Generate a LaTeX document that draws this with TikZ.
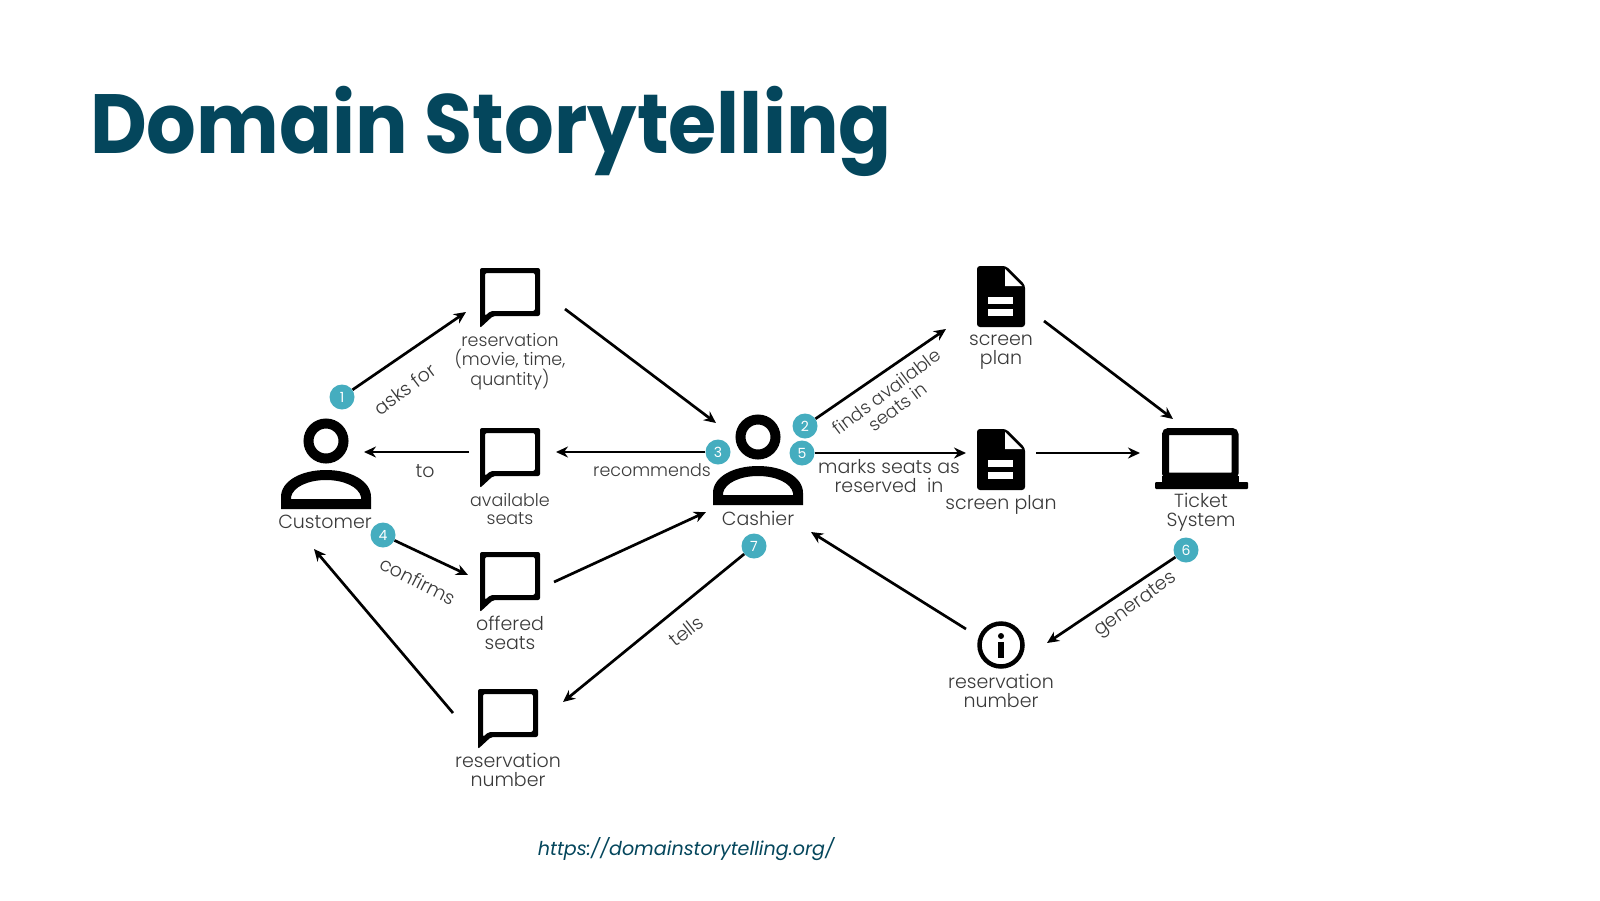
\documentclass[tikz,border=0pt]{standalone}
\usepackage{fontspec}
\setmainfont{Poppins}
\newfontfamily\titlefont{Poppins}[UprightFont=* Bold]
\newfontfamily\labelfont{Poppins Light}
\usetikzlibrary{arrows.meta}
\definecolor{titleblue}{HTML}{04465C}
\definecolor{badgeteal}{HTML}{45ADBF}
\definecolor{labelgrey}{HTML}{3A3A3A}
\tikzset{
  conn/.style={line width=2.7pt,-{Stealth[length=12pt,width=11pt]},black},
  lbl/.style={inner sep=0pt,align=center,text=labelgrey,font=\labelfont\fontsize{19}{18.7}\selectfont},
  lblsmall/.style={lbl,font=\labelfont\fontsize{17.5}{18.7}\selectfont},
  badge/.style={circle,fill=badgeteal,minimum size=25pt,inner sep=0pt,text=white,font=\fontsize{14}{14}\selectfont},
  pics/talk/.style={code={
    \fill[black,even odd rule,rounded corners=2pt]
      (0,0) -- (60,0) -- (60,48) -- (13,48) -- (0,60) -- cycle
      (5,5) -- (55,5) -- (55,43) -- (10.5,43) -- (5,48) -- cycle;
  }},
  pics/person/.style={code={
    \draw[line width=10pt] (0,0) circle (17.5pt);
    \fill[black,even odd rule]
      (-45,68) -- (-45,56) .. controls (-45,40) and (-25,29) .. (0,29)
      .. controls (25,29) and (45,40) .. (45,56) -- (45,68) -- cycle
      (-35,58) -- (-35,56) .. controls (-33,46) and (-18,39) .. (0,39)
      .. controls (18,39) and (33,46) .. (35,56) -- (35,58) -- cycle;
  }},
  pics/sheet/.style={code={
    \fill[black,rounded corners=3pt] (0,0) -- (29,0) -- (48,19) -- (48,61) -- (0,61) -- cycle;
    \fill[white] (28,3) -- (45,20) -- (28,20) -- cycle;
    \fill[white] (11,31) rectangle (36,38);
    \fill[white] (11,43) rectangle (36,50);
  }},
  pics/laptop/.style={code={
    \draw[line width=7pt,rounded corners=3pt] (3.5,3.5) rectangle (73,48);
    \fill[black] (0,48) rectangle (76.5,54);
    \fill[black,rounded corners=1pt] (-7,54) rectangle (86,61);
  }},
  pics/infosign/.style={code={
    \draw[line width=4.5pt] (0,0) circle (21.5pt);
    \fill[black] (0,-9) circle (3pt);
    \fill[black] (-2.6,-3) rectangle (2.6,13);
  }}
}
\begin{document}
\begin{tikzpicture}[x=1pt,y=-1pt]
\useasboundingbox (0,0) rectangle (1600,900);
\fill[white] (0,0) rectangle (1600,900);

% heading and source link
\node[anchor=base west,inner sep=0pt,xscale=.93,text=titleblue,font=\titlefont\fontsize{84}{84}\selectfont] (title) at (90,153) {Domain Storytelling};
\node[anchor=base,inner sep=0pt,text=titleblue,font=\fontsize{19.1}{20}\selectfont\itshape] (link) at (686,855) {https://domainstorytelling.org/};

% actors and work objects
\pic at (326,441) {person};
\pic at (758,437) {person};
\pic at (480,268) {talk};
\pic at (480,428) {talk};
\pic at (480,552) {talk};
\pic at (478,689) {talk};
\pic at (977,266) {sheet};
\pic at (977,429) {sheet};
\pic at (1162,428) {laptop};
\pic at (1001,645) {infosign};

% anchor points around the icons
\coordinate (resvIn)   at (466,312);
\coordinate (resvOut)  at (565,309);
\coordinate (cashTop)  at (716,423);
\coordinate (availOut) at (469,452);
\coordinate (custE)    at (364,452);
\coordinate (availIn)  at (556,452);
\coordinate (planAIn)  at (946,329);
\coordinate (planBIn)  at (966,453);
\coordinate (planAOut) at (1044,321);
\coordinate (sysTop)   at (1173,419);
\coordinate (planBOut) at (1036,453);
\coordinate (sysW)     at (1140,453);
\coordinate (offerIn)  at (468,575);
\coordinate (offerOut) at (554,582);
\coordinate (cashSW)   at (706,512);
\coordinate (numOut)   at (453,713);
\coordinate (custS)    at (314,549);
\coordinate (numIn)    at (563,702);
\coordinate (infoOut)  at (966,629);
\coordinate (cashSE)   at (811,532);
\coordinate (infoIn)   at (1047,643);

% numbered story steps
\node[badge] (s1) at (342,397) {1};
\node[badge] (s2) at (805,426) {2};
\node[badge] (s3) at (718,452) {3};
\node[badge] (s4) at (383,535) {4};
\node[badge] (s5) at (802,453) {5};
\node[badge] (s6) at (1186,550) {6};
\node[badge] (s7) at (754,546) {7};

% activity arrows
\draw[conn] (s1) -- (resvIn);
\draw[conn] (resvOut) -- (cashTop);
\draw[conn] (availOut) -- (custE);
\draw[conn] (s3) -- (availIn);
\draw[conn] (s2) -- (planAIn);
\draw[conn] (s5) -- (planBIn);
\draw[conn] (planAOut) -- (sysTop);
\draw[conn] (planBOut) -- (sysW);
\draw[conn] (s4) -- (offerIn);
\draw[conn] (offerOut) -- (cashSW);
\draw[conn] (numOut) -- (custS);
\draw[conn] (s7) -- (numIn);
\draw[conn] (infoOut) -- (cashSE);
\draw[conn] (s6) -- (infoIn);

% icon captions
\node[lbl] (capCust) at (325,522) {Customer};
\node[lbl] (capCash) at (758,518) {Cashier};
\node[lblsmall] (capResv) at (510,362) {reservation\\(movie, time,\\quantity)};
\node[lblsmall] (capAvail) at (510,509) {available\\seats};
\node[lbl] (capOffer) at (510,633) {offered\\seats};
\node[lbl] (capNumA) at (508,770) {reservation\\number};
\node[lbl] (capPlanA) at (1001,352) {screen\\plan};
\node[lbl] (capPlanB) at (1001,505) {screen plan};
\node[lbl] (capSys) at (1201,512) {Ticket\\System};
\node[lbl] (capNumB) at (1001,691) {reservation\\number};

% activity captions
\node[lbl,rotate=37] (capAsks) at (405,389) {asks for};
\node[lbl] (capTo) at (425,471) {to};
\node[lblsmall] (capRec) at (652,470) {recommends};
\node[lbl,rotate=37,font=\labelfont\fontsize{18}{18.7}\selectfont] (capFinds) at (892,399) {finds available\\seats in};
\node[lbl] (capMarks) at (889,476) {marks seats as\\reserved\ \ in};
\node[lbl,rotate=-27] (capConf) at (418,581) {confirms};
\node[lbl,rotate=38] (capTells) at (686,631) {tells};
\node[lbl,rotate=36] (capGen) at (1136,605) {generates};
\end{tikzpicture}
\end{document}
